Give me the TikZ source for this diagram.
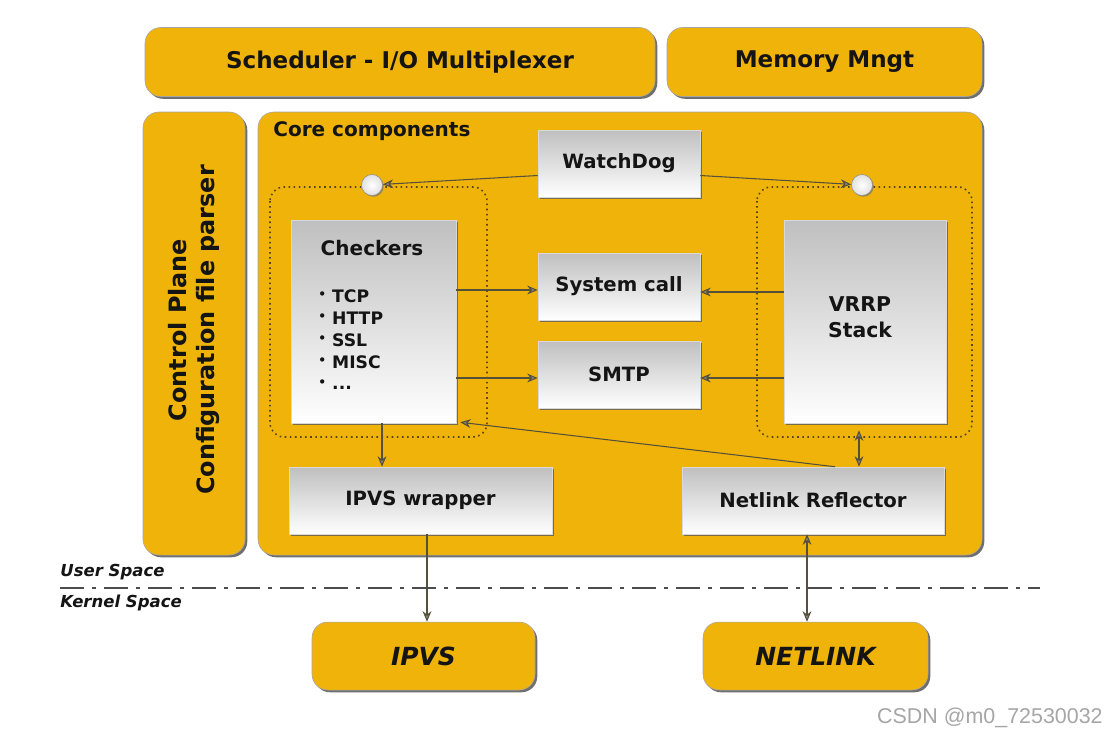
\documentclass[tikz,border=0pt]{standalone}
\usepackage{fontspec}
\setmainfont{DejaVu Sans}
\newfontfamily\wmfont{Liberation Sans}
\usetikzlibrary{shadows,arrows.meta,calc}
\definecolor{kyellow}{RGB}{239,179,10}
\definecolor{kline}{RGB}{85,80,60}
\definecolor{kdot}{RGB}{90,70,20}
\definecolor{ktext}{RGB}{20,20,20}
\begin{document}
\begin{tikzpicture}[x=0.02cm,y=-0.02cm,
  ybox/.style={draw=black!35,line width=0.3pt,fill=kyellow,rounded corners=9pt,
    drop shadow={shadow xshift=1.3pt,shadow yshift=-1.3pt,fill=black!70,opacity=0.8},
    text=ktext,font=\fontsize{13.1}{15.5}\selectfont\bfseries,inner sep=0pt},
  gbox/.style={draw=black!15,line width=0.3pt,top color=black!25,bottom color=white,
    drop shadow={shadow xshift=1.3pt,shadow yshift=-1.3pt,fill=black!65,opacity=0.8},
    text=ktext,font=\fontsize{11.2}{14.7}\selectfont\bfseries,align=center,inner sep=0pt},
  grp/.style={draw=kdot,dotted,line width=0.9pt,rounded corners=8pt},
  ball/.style={circle,draw=black!45,line width=0.3pt,inner color=white,outer color=black!12,
    minimum size=21*0.02cm,inner sep=0pt,drop shadow={shadow xshift=0.7pt,shadow yshift=-0.7pt,fill=black!55,opacity=0.7}},
  arr/.style={draw=kline,line width=0.6pt,-{Stealth[length=6pt,width=5pt,open,fill=kline!70]}},
  darr/.style={draw=kline,line width=0.6pt,{Stealth[length=6pt,width=5pt,open,fill=kline!70]}-{Stealth[length=6pt,width=5pt,open,fill=kline!70]}},
  lbl/.style={text=ktext,inner sep=0pt}
]
\useasboundingbox (0,0) rectangle (1108,738);
\fill[white] (0,0) rectangle (1108,738);

% top bars
\node[ybox,minimum width=510*0.02cm,minimum height=69*0.02cm] (sched) at (400,62) {Scheduler - I/O Multiplexer};
\node[ybox,minimum width=315*0.02cm,minimum height=69*0.02cm] (mem) at (824.5,62) {Memory Mngt};

% control plane
\node[ybox,minimum width=102*0.02cm,minimum height=443*0.02cm] (ctrl) at (194,333.5) {};
\node[lbl,rotate=90,align=center,font=\fontsize{13.6}{15.4}\selectfont\bfseries] (ctrltxt) at (194,330) {Control Plane\\Configuration file parser};

% core
\node[ybox,minimum width=724*0.02cm,minimum height=443*0.02cm] (core) at (620,333.5) {};
\node[lbl,anchor=west,font=\fontsize{11.4}{13}\selectfont\bfseries] (coretxt) at (273,131) {Core components};

% dotted groups
\draw[grp] (270,187) rectangle (487,437);
\draw[grp] (757,187) rectangle (972,437);

% grey boxes
\node[gbox,minimum width=162*0.02cm,minimum height=67*0.02cm] (wd) at (619,163.5) {WatchDog};
\node[gbox,minimum width=162*0.02cm,minimum height=67*0.02cm] (sys) at (619,286.5) {System call};
\node[gbox,minimum width=162*0.02cm,minimum height=67*0.02cm] (smtp) at (619,374.5) {SMTP};
\node[gbox,minimum width=165*0.02cm,minimum height=203*0.02cm] (chk) at (373.5,321.5) {};
\node[lbl,font=\fontsize{11.4}{13}\selectfont\bfseries] (chktxt) at (372,248) {Checkers};
\node[lbl,anchor=north west,align=left,font=\fontsize{9.8}{12.5}\selectfont\bfseries] (chklist) at (318,289)
  {\raisebox{2pt}{\scriptsize•} TCP\\\raisebox{2pt}{\scriptsize•} HTTP\\\raisebox{2pt}{\scriptsize•} SSL\\\raisebox{2pt}{\scriptsize•} MISC\\\raisebox{2pt}{\scriptsize•} ...};
\node[gbox,minimum width=162*0.02cm,minimum height=203*0.02cm] (vrrp) at (865,321.5) {};
\node[lbl,align=center,font=\fontsize{11.6}{14.7}\selectfont\bfseries] (vrrptxt) at (860,317) {VRRP\\Stack};
\node[gbox,minimum width=263*0.02cm,minimum height=67*0.02cm] (ipvsw) at (420.5,500.5) {IPVS wrapper};
\node[gbox,minimum width=262*0.02cm,minimum height=67*0.02cm] (nlr) at (813,500.5) {Netlink Reflector};

% kernel boxes
\node[ybox,minimum width=223*0.02cm,minimum height=68*0.02cm,font=\fontsize{14.2}{16}\selectfont\bfseries\itshape] (ipvs) at (423.5,656) {IPVS};
\node[ybox,minimum width=225*0.02cm,minimum height=68*0.02cm,font=\fontsize{14.2}{16}\selectfont\bfseries\itshape] (netlink) at (815.5,656) {NETLINK};

% balls
\node[ball] (cL) at (372,185) {};
\node[ball] (cR) at (862,185) {};

% connectors
\draw[arr] ([yshift=-12*0.02cm]wd.west) -- (cL);
\draw[arr] ([yshift=-12*0.02cm]wd.east) -- (cR);
\draw[arr] (chk.east |- 0,290) coordinate (a1) -- (sys.west |- a1);
\draw[arr] (chk.east |- 0,378) coordinate (a2) -- (smtp.west |- a2);
\draw[arr] (vrrp.west |- 0,292) coordinate (a3) -- (sys.east |- a3);
\draw[arr] (vrrp.west |- 0,378) coordinate (a4) -- (smtp.east |- a4);
\draw[arr] (chk.south -| 382,0) coordinate (a5) -- (ipvsw.north -| a5);
\draw[arr] ([xshift=22*0.02cm]nlr.north) -- ([xshift=4*0.02cm,yshift=1*0.02cm]chk.south east);
\draw[darr,shorten <=4pt] (vrrp.south -| 859,0) coordinate (a6) -- (nlr.north -| a6);
\draw[arr] (ipvsw.south -| 427,0) coordinate (a7) -- (ipvs.north -| a7);
\draw[darr] (nlr.south -| 807,0) coordinate (a8) -- (netlink.north -| a8);

% user / kernel line
\coordinate (sepL) at (60,588);
\coordinate (sepR) at (1040,588);
\draw[black!70,line width=1.1pt,dash pattern=on 24*0.02cm off 8*0.02cm on 4*0.02cm off 8*0.02cm] (sepL) -- (sepR);
\node[lbl,anchor=west,font=\fontsize{9.4}{11}\selectfont\bfseries\itshape] (us) at (60,572) {User Space};
\node[lbl,anchor=west,font=\fontsize{9.4}{11}\selectfont\bfseries\itshape] (ks) at (60,603) {Kernel Space};

% watermark
\node[anchor=east,inner sep=0pt,text=black!35,font=\wmfont\fontsize{12.2}{14}\selectfont] (wm) at (1103,718) {CSDN @m0\_72530032};
\end{tikzpicture}
\end{document}
